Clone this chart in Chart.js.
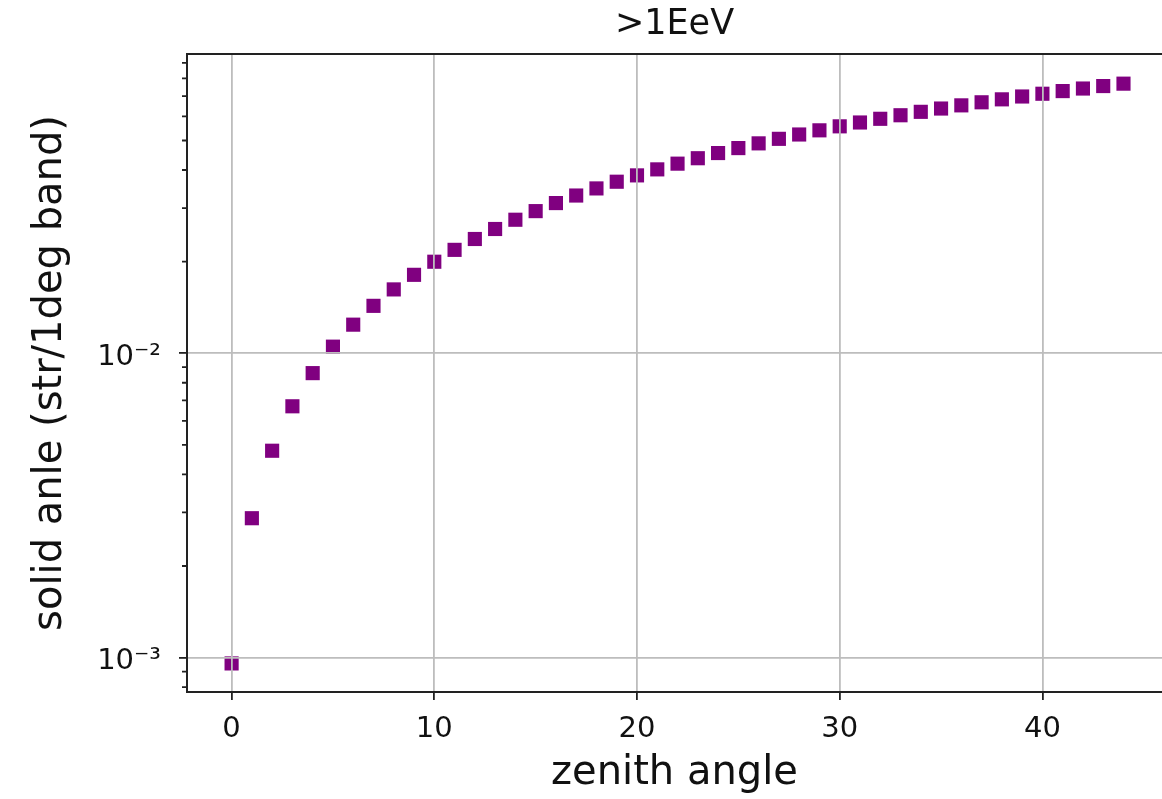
<!DOCTYPE html>
<html><head><meta charset="utf-8">
<script src="https://cdn.jsdelivr.net/npm/chart.js@4/dist/chart.umd.min.js"></script>
<style>html,body{margin:0;padding:0;background:#fff;} #wrap{width:1162px;height:799px;}</style>
</head><body><div id="wrap"><canvas id="c" width="1162" height="799"></canvas></div>
<script>
const zenithAngles = [0,1,2,3,4,5,6,7,8,9,10,11,12,13,14,15,16,17,18,19,20,21,22,23,24,25,26,27,28,29,30,31,32,33,34,35,36,37,38,39,40,41,42,43,44];
const solidAngle = [0.000957,0.002871,0.004783,0.006695,0.008604,0.010511,0.012414,0.014314,0.016209,0.018100,
  0.019984,0.021863,0.023735,0.025600,0.027457,0.029306,0.031146,0.032976,0.034797,0.036606,
  0.038405,0.040191,0.041966,0.043728,0.045476,0.047211,0.048931,0.050637,0.052327,0.054001,
  0.055658,0.057299,0.058922,0.060527,0.062114,0.063682,0.065230,0.066759,0.068267,0.069754,
  0.071220,0.072665,0.074087,0.075487,0.076864];
const xTicks = [0,10,20,30,40];
const yMajorTicks = [0.001, 0.01];
const yMajorLabels = ['10\u207B\u00B3','10\u207B\u00B2'];
const yMinorTicks = [0.0008,0.0009,0.002,0.003,0.004,0.005,0.006,0.007,0.008,0.009,0.02,0.03,0.04,0.05,0.06,0.07,0.08,0.09];
const titleText = '>1EeV';
const xLabel = 'zenith angle';
const yLabel = 'solid anle (str/1deg band)';

const FONT = "'DejaVu Sans', sans-serif";
const INK = '#111';
const SPINE = '#222';
const GRID = '#bdbdbd';

const minorTickPlugin = {
  id: 'minorTicks',
  afterDraw(chart) {
    const {ctx, chartArea: a, scales} = chart;
    ctx.save();
    ctx.strokeStyle = SPINE;
    ctx.lineWidth = 1.8;
    ctx.beginPath();
    yMinorTicks.forEach(v => {
      const y = scales.y.getPixelForValue(v);
      ctx.moveTo(a.left - 5, y); ctx.lineTo(a.left, y);
    });
    ctx.stroke();
    ctx.restore();
  }
};

function noPadH(s) { s.paddingLeft = 0; s.paddingRight = 0; }

new Chart(document.getElementById('c'), {
  type: 'scatter',
  data: {
    datasets: [{
      data: zenithAngles.map((x, i) => ({x: x, y: solidAngle[i]})),
      pointStyle: 'rect',
      pointRadius: 10,
      pointHoverRadius: 10,
      backgroundColor: '#800080',
      borderColor: '#800080',
      borderWidth: 0,
      showLine: false
    }]
  },
  options: {
    responsive: false,
    animation: false,
    layout: {padding: 0, autoPadding: false},
    plugins: {
      legend: {display: false},
      tooltip: {enabled: false},
      title: {display: false}
    },
    scales: {
      x: {
        type: 'linear',
        position: 'bottom',
        min: -2.2,
        max: 45.9,
        afterBuildTicks: s => { s.ticks = xTicks.map(v => ({value: v})); },
        afterFit: s => { s.height = 107; noPadH(s); },
        border: {display: true, color: SPINE, width: 2, z: 1},
        grid: {z: 1, color: GRID, lineWidth: 1.8, drawTicks: true, tickLength: 8, tickColor: SPINE, tickWidth: 1.8},
        ticks: {color: INK, font: {family: FONT, size: 29}, padding: 12, maxRotation: 0, autoSkip: false},
        title: {display: true, text: xLabel, color: INK, font: {family: FONT, size: 40}, padding: {top: 0, bottom: 1}}
      },
      xTop: {
        type: 'linear',
        position: 'top',
        display: true,
        min: -2.2,
        max: 45.9,
        afterBuildTicks: s => { s.ticks = []; },
        afterFit: s => { s.height = 54; noPadH(s); },
        border: {display: true, color: SPINE, width: 2, z: 1},
        grid: {display: false, drawOnChartArea: false, drawTicks: false},
        ticks: {display: false},
        title: {display: true, text: titleText, color: INK, font: {family: FONT, size: 35}, padding: {top: 4, bottom: 0}}
      },
      y: {
        type: 'logarithmic',
        position: 'left',
        min: 0.000771,
        max: 0.0962,
        afterBuildTicks: s => { s.ticks = yMajorTicks.map(v => ({value: v})); },
        afterFit: s => { s.width = 187; s.paddingTop = 0; s.paddingBottom = 0; },
        border: {display: true, color: SPINE, width: 2, z: 1},
        grid: {z: 1, color: GRID, lineWidth: 1.8, drawTicks: true, tickLength: 8, tickColor: SPINE, tickWidth: 1.8},
        ticks: {
          color: INK, font: {family: FONT, size: 29}, padding: 18, autoSkip: false, labelOffset: 4,
          callback: (v) => { const i = yMajorTicks.indexOf(v); return i >= 0 ? yMajorLabels[i] : ''; }
        },
        title: {display: true, text: yLabel, color: INK, font: {family: FONT, size: 40}, padding: {top: 27, bottom: 0}}
      }
    }
  },
  plugins: [minorTickPlugin]
});
</script>
</body></html>
